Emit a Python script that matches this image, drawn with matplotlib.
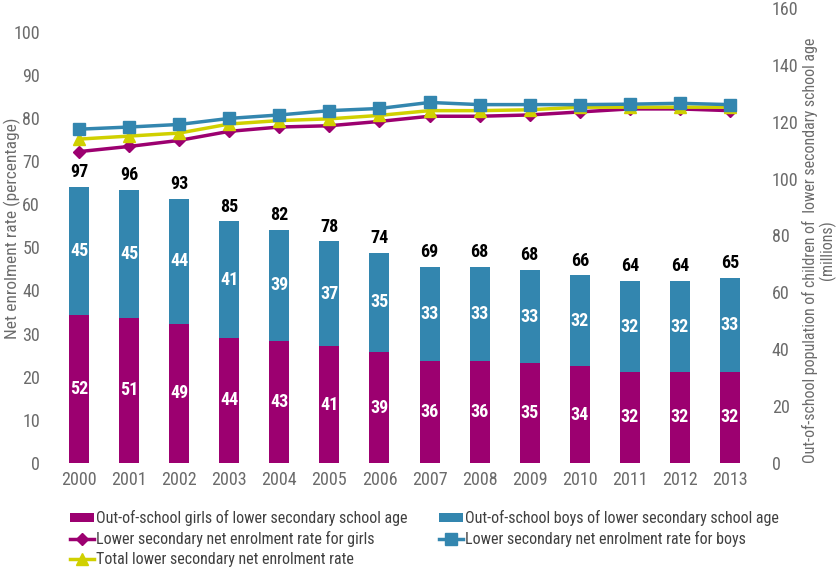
import numpy as np
import matplotlib
matplotlib.use('Agg')
import matplotlib.pyplot as plt
from matplotlib import font_manager

# need a narrow face, the original uses a condensed grotesk
names = {f.name for f in font_manager.fontManager.ttflist}
narrow = None
for cand in ['Roboto Condensed', 'Liberation Sans Narrow', 'Noto Sans Condensed',
             'DejaVu Sans Condensed', 'Open Sans Condensed']:
    if cand in names:
        narrow = cand
        break
if narrow is None:
    cond = [f.name for f in font_manager.fontManager.ttflist
            if f.stretch in ('condensed', 'semi-condensed', 'extra-condensed', 75, 62.5, 87.5)]
    if cond:
        narrow = cond[0]
        plt.rcParams['font.stretch'] = 'condensed'
    else:
        narrow = 'DejaVu Sans'
plt.rcParams['font.family'] = [narrow, 'DejaVu Sans']

years = ['2000', '2001', '2002', '2003', '2004', '2005', '2006',
         '2007', '2008', '2009', '2010', '2011', '2012', '2013']
girls_oos = [52, 51, 49, 44, 43, 41, 39, 36, 36, 35, 34, 32, 32, 32]
boys_oos = [45, 45, 44, 41, 39, 37, 35, 33, 33, 33, 32, 32, 32, 33]
total_oos = [97, 96, 93, 85, 82, 78, 74, 69, 68, 68, 66, 64, 64, 65]

ner_girls = [72.2, 73.4, 74.8, 76.9, 77.9, 78.2, 79.2, 80.4, 80.4, 80.7, 81.4, 82.1, 82.1, 81.7]
ner_boys = [77.4, 77.9, 78.5, 79.9, 80.7, 81.7, 82.2, 83.6, 83.1, 83.1, 83.1, 83.2, 83.4, 83.1]
ner_total = [75.1, 75.8, 76.5, 78.6, 79.4, 79.8, 80.6, 81.7, 81.7, 81.9, 82.5, 82.5, 82.5, 82.5]

purple = '#9c0070'
blue = '#3386af'
yellow = '#d0d000'
grey = '#6b6b6b'

fig = plt.figure(figsize=(8.4, 5.69), dpi=100)
ax = fig.add_axes([54/840, 1-463/569, (755-54)/840, (463-8)/569])
x = np.arange(len(years))

# bars on the millions scale (right side)
b1 = ax.bar(x, girls_oos, width=0.4, color=purple, label='Out-of-school girls of lower secondary school age')
b2 = ax.bar(x, boys_oos, width=0.4, bottom=girls_oos, color=blue, label='Out-of-school boys of lower secondary school age')
for i in range(len(x)):
    ax.text(x[i], girls_oos[i]/2, str(girls_oos[i]), ha='center', va='center',
            color='white', fontweight='bold', fontsize=13)
    ax.text(x[i], girls_oos[i] + boys_oos[i]/2, str(boys_oos[i]), ha='center', va='center',
            color='white', fontweight='bold', fontsize=13)
    ax.text(x[i], girls_oos[i] + boys_oos[i] + 2, str(total_oos[i]), ha='center', va='bottom',
            color='black', fontweight='bold', fontsize=13)
ax.set_ylim(0, 160)
ax.set_xlim(-0.5, len(x) - 0.5)
ax.set_yticks(range(0, 161, 20))
ax.set_xticks(x)
ax.set_xticklabels(years)

# lines on percentage scale (left side)
ax2 = ax.twinx()
l1, = ax2.plot(x, ner_girls, color=purple, lw=2.5, marker='D', ms=6, zorder=3,
               label='Lower secondary net enrolment rate for girls')
l3, = ax2.plot(x, ner_total, color=yellow, lw=2.5, marker='^', ms=8, zorder=4,
               label='Total lower secondary net enrolment rate')
l2, = ax2.plot(x, ner_boys, color=blue, lw=2.5, marker='s', ms=8.5, zorder=5,
               label='Lower secondary net enrolment rate for boys')
ax2.set_ylim(0, 105.5)
ax2.set_yticks(range(0, 101, 10))

# swap sides after twinx (twinx resets them)
ax.yaxis.tick_right()
ax2.yaxis.tick_left()

# axis titles placed by hand
fig.text(819/840, 1-250/569,
         'Out-of-school population of children of  lower secondary school age\n(millions)',
         rotation=90, ha='center', va='center', multialignment='center',
         color=grey, fontsize=11.5, linespacing=1.0)
fig.text(12/840, 1-228/569, 'Net enrolment rate (percentage)', rotation=90,
         ha='center', va='center', color=grey, fontsize=12.5)

for a in (ax, ax2):
    for s in a.spines.values():
        s.set_visible(False)
    a.tick_params(length=0, labelsize=13, labelcolor=grey)
ax.tick_params(axis='y', pad=12)
ax2.tick_params(axis='y', pad=10)
ax.tick_params(axis='x', pad=6)

fig.legend([b1, l1, l3, b2, l2],
           [b1.get_label(), l1.get_label(), l3.get_label(), b2.get_label(), l2.get_label()],
           ncol=2, loc='upper left', bbox_to_anchor=(67/840, 1-507/569), frameon=False,
           fontsize=11.5, handlelength=1.5, handleheight=0.5, handletextpad=0.1,
           columnspacing=2.0, labelspacing=0.3, labelcolor='#404040',
           borderaxespad=0, borderpad=0.2)

fig.savefig('out.png', dpi=100, facecolor='white')
